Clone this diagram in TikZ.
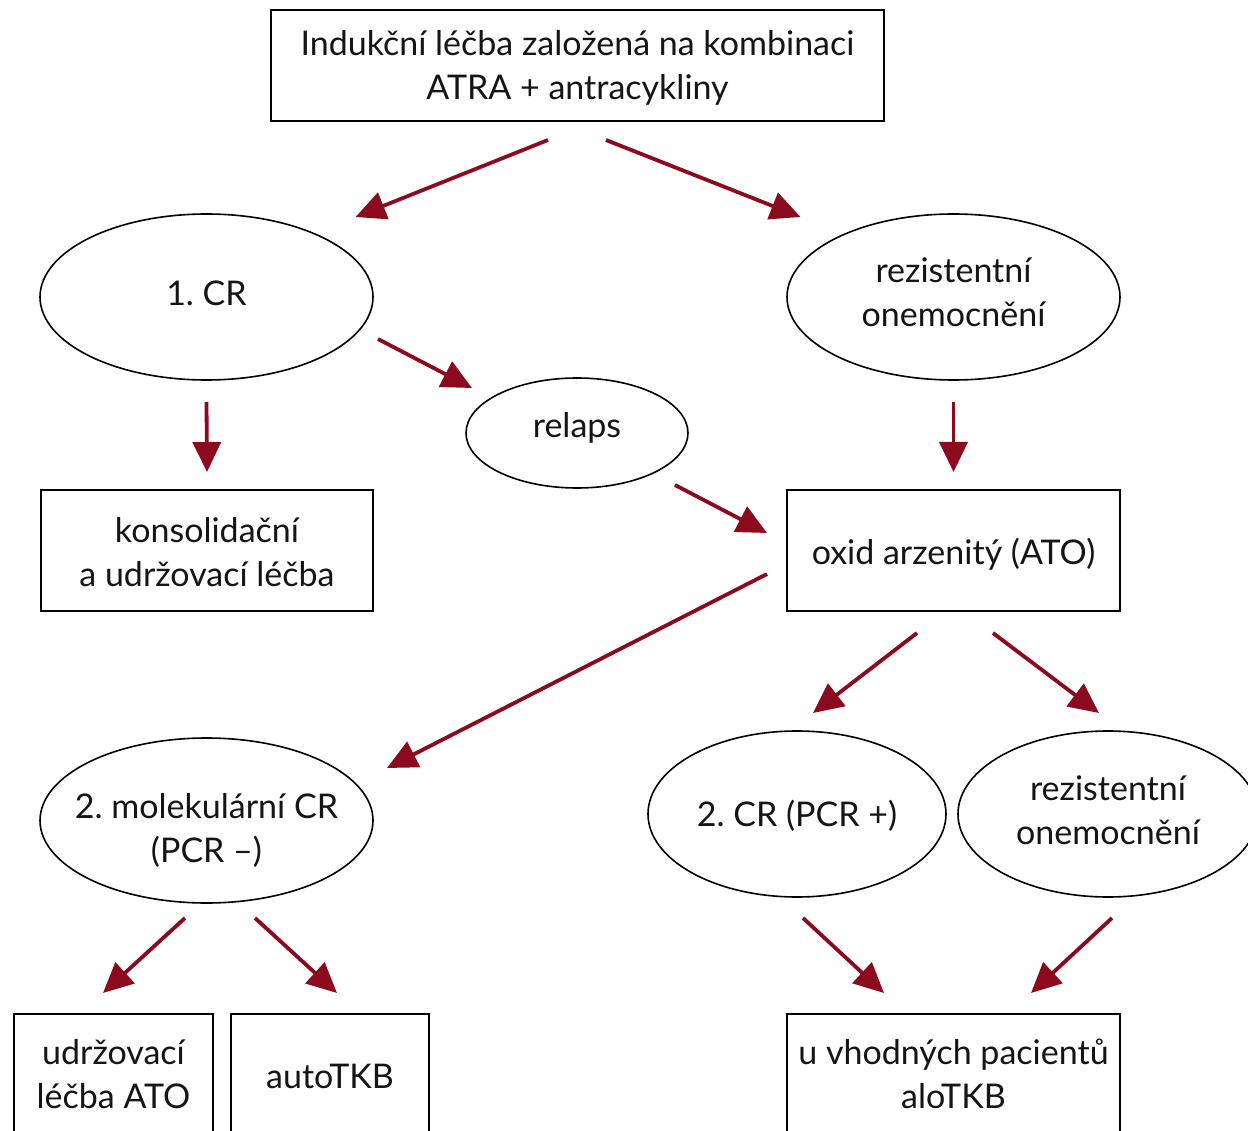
\documentclass[tikz,border=0pt]{standalone}
\usepackage{fontspec}
\setmainfont{Lato}
\usetikzlibrary{shapes.geometric,arrows.meta,calc}
\definecolor{arrred}{HTML}{8B0A1E}
\definecolor{txt}{HTML}{151515}
\tikzset{
  base/.style={draw=black, line width=1.6pt, inner sep=0pt},
  boxn/.style={base, rectangle},
  ell/.style={base, ellipse},
  lbl/.style={text=txt, align=center, inner sep=0pt, font=\fontsize{34}{44}\selectfont},
  arr/.style={draw=arrred, line width=3.8pt,
    -{Triangle[length=30pt,width=28pt]}},
}
\begin{document}
\begin{tikzpicture}[x=1pt,y=-1pt]
\useasboundingbox (0,0) rectangle (1248,1131);
\clip (0,0) rectangle (1248,1131);
\fill[white] (0,0) rectangle (1248,1131);

% shapes
\node[boxn, minimum width=613pt, minimum height=111pt] (top) at (577.5,65.5) {};
\node[ell, minimum width=333pt, minimum height=166pt] (cr1) at (206.5,297) {};
\node[ell, minimum width=333pt, minimum height=166pt] (rez1) at (953.5,297) {};
\node[ell, minimum width=222pt, minimum height=110pt] (relaps) at (577,433) {};
\node[boxn, minimum width=332pt, minimum height=121pt] (kons) at (207,550.5) {};
\node[boxn, minimum width=333pt, minimum height=121pt] (oxid) at (953.5,550.5) {};
\node[ell, minimum width=333pt, minimum height=165pt] (mol) at (206.5,820.5) {};
\node[ell, minimum width=298pt, minimum height=166pt] (cr2) at (797,814) {};
\node[ell, minimum width=300pt, minimum height=166pt] (rez2) at (1108,814) {};
\node[boxn, minimum width=199pt, minimum height=130pt] (udr) at (113.5,1079) {};
\node[boxn, minimum width=198pt, minimum height=130pt] (auto) at (330,1079) {};
\node[boxn, minimum width=333pt, minimum height=130pt] (alo) at (953.5,1079) {};

% texts
\node[lbl] (topt) at ($(top)+(0,2)$) {Indukční léčba založená na kombinaci\\ATRA + antracykliny};
\node[lbl] (cr1t) at ($(cr1)+(0,-4)$) {1.\ CR};
\node[lbl] (rez1t) at ($(rez1)+(0,-5)$) {rezistentní\\onemocnění};
\node[lbl] (relapst) at ($(relaps)+(0,-5)$) {relaps};
\node[lbl] (konst) at ($(kons)+(0,2)$) {konsolidační\\a udržovací léčba};
\node[lbl] (oxidt) at ($(oxid)+(0,4)$) {oxid arzenitý (ATO)};
\node[lbl] (molt) at ($(mol)+(0,10)$) {2.\ molekulární CR\\(PCR –)};
\node[lbl] (cr2t) at ($(cr2)+(0,2)$) {2.\ CR (PCR +)};
\node[lbl] (rez2t) at ($(rez2)+(0,-4)$) {rezistentní\\onemocnění};
\node[lbl] (udrt) at ($(udr)+(0,-5)$) {udržovací\\léčba ATO};
\node[lbl] (autot) at ($(auto)+(0,-3)$) {autoTKB};
\node[lbl] (alot) at ($(alo)+(0,-5)$) {u vhodných pacientů\\aloTKB};

% connectors
\draw[arr] ($(top)+(-29.5,74.5)$) -- ($(cr1)+(149,-80)$);
\draw[arr] ($(top)+(28.5,74.5)$) -- ($(rez1)+(-153,-80)$);
\draw[arr] ($(cr1)+(171.5,42)$) -- ($(relaps)+(-105,-45)$);
\draw[arr] ($(cr1)+(0,105)$) -- ($(kons)+(0,-78.5)$);
\draw[arr] ($(rez1)+(0,105)$) -- ($(oxid)+(0,-78.5)$);
\draw[arr] ($(relaps)+(98,52)$) -- ($(oxid)+(-186.5,-17.5)$);
\draw[arr] ($(oxid)+(-186.5,23.5)$) -- ($(mol)+(180.5,-52.5)$);
\draw[arr] ($(oxid)+(-36.5,82.5)$) -- ($(cr2)+(16,-101)$);
\draw[arr] ($(oxid)+(39.5,82.5)$) -- ($(rez2)+(-9,-101)$);
\draw[arr] ($(mol)+(-21.5,97.5)$) -- ($(udr)+(-10.5,-86)$);
\draw[arr] ($(mol)+(48.5,97.5)$) -- ($(auto)+(7,-86)$);
\draw[arr] ($(cr2)+(6,104)$) -- ($(alo)+(-69.5,-86)$);
\draw[arr] ($(rez2)+(4,104)$) -- ($(alo)+(77.5,-86)$);
\end{tikzpicture}
\end{document}
